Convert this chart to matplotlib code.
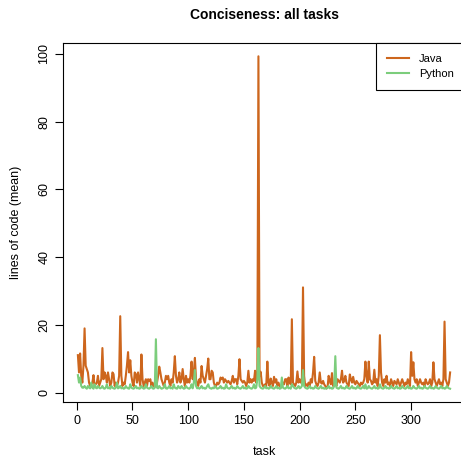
import numpy as np
import matplotlib.pyplot as plt

# mean lines of code per task, tasks 1..335
java = [
    11.1, 6, 11.6, 5, 3, 8, 19, 8, 7, 6, 3, 2, 2.5, 3, 5.2, 2, 2.5, 3, 5, 2,
    3, 4, 13.2, 4, 6, 5, 3, 6, 4, 2, 3, 6, 5.5, 2, 3, 2, 3, 5, 22.6, 5,
    2, 3, 2.5, 5, 8, 12, 6, 9.6, 5, 3, 2, 6, 5.5, 3, 6, 4, 2, 11.3, 4, 2,
    3, 4, 2, 4, 3.5, 4, 2, 3, 2, 1.8, 2, 3, 5, 7.7, 6, 4, 3, 2, 3, 5,
    4, 5, 3, 2, 4, 3, 6, 10.8, 5, 3, 4, 6, 3, 4, 7, 4, 2, 5, 3, 4,
    3, 5, 9.2, 4, 6, 10.3, 4, 3, 2, 4, 3, 7.9, 5, 4, 3, 5, 7, 10.1, 4, 4,
    6.5, 6, 3, 2, 2, 3, 2.5, 3, 4.5, 4, 4.5, 3, 4, 3.5, 3, 3.5, 3, 2.5, 3.5, 5,
    3, 4, 4, 2.5, 5, 9.9, 4, 3.5, 3, 3.5, 3, 2, 3, 6.5, 3, 4, 3, 4, 3.5, 6.5,
    3, 4, 99.3, 5, 6.2, 3, 2, 2, 2.5, 2, 9.2, 3, 2, 4.2, 3, 2, 4.7, 3, 4, 2,
    3, 2, 1.5, 2, 3, 2.5, 4, 4, 2, 4.5, 3, 2.5, 21.7, 3, 2.5, 2, 3, 6.3, 3, 4,
    3, 4, 31.1, 5, 2, 2.5, 2, 3, 2, 4, 3, 6, 10.6, 3.5, 2.5, 2, 3, 6, 3, 2.7,
    3.5, 2.5, 2, 1.3, 1.5, 5, 3.5, 2.5, 5.8, 2, 2.5, 3, 2, 4, 3.5, 3, 4, 6.5, 3, 3.5,
    5, 3, 2.5, 2, 5.4, 4, 3, 4.7, 3, 2.5, 3.5, 3, 2.5, 2, 3, 2.5, 3, 4, 9.2, 5,
    3, 9.2, 4, 3.5, 2.5, 3, 6.8, 3, 4, 2, 5, 17, 6, 3, 2, 4, 3, 5, 2.5, 3,
    2, 4, 3, 2, 3.5, 3, 2.5, 4, 3, 2, 3, 4, 3, 2, 3, 2.5, 4, 3, 2, 12,
    5, 9, 4, 3, 4, 2, 3, 4, 3, 2.5, 3, 2, 4, 3, 2.5, 3, 4, 2, 3, 9,
    4, 3, 2, 3, 4, 2.5, 3, 2, 4, 21, 4, 3, 2, 3, 6,
]
python = [
    5.2, 3, 4.5, 2, 1.5, 1.5, 2, 1.5, 1.2, 2, 1.5, 1.3, 3, 1.5, 1.2, 2.5, 1.5, 1.3, 2, 1.5,
    1.3, 1.5, 2, 1.3, 1.2, 1.5, 2.5, 1.3, 1.5, 1.2, 2, 1.5, 1.3, 1.2, 1.5, 3, 1.3, 1.5, 2, 1.3,
    1.5, 1.2, 1.3, 2, 1.5, 1.3, 1.2, 2.5, 1.5, 1.3, 1.2, 1.5, 2, 1.3, 1.5, 1.2, 1.3, 2, 1.5, 1.2,
    1.3, 2.5, 1.5, 1.3, 1.2, 1.5, 2, 1.3, 1.2, 1.5, 15.8, 1.5, 1.3, 2, 1.5, 1.2, 1.3, 1.5, 2.5, 1.3,
    1.2, 1.5, 2, 1.3, 1.5, 1.2, 2.5, 1.5, 1.3, 1.2, 2, 1.5, 1.3, 2, 1.5, 1.2, 1.3, 2, 1.5, 1.3,
    1.2, 1.5, 2.5, 1.3, 3, 6.7, 2, 1.3, 1.5, 1.2, 1.5, 2, 1.3, 1.5, 1.2, 1.3, 2, 2.5, 1.5, 1.3,
    1.2, 1.5, 1.3, 2, 1.5, 1.2, 1.3, 1.5, 2, 1.3, 1.5, 1.2, 1.3, 2.5, 1.5, 1.3, 1.2, 1.5, 2, 1.3,
    1.5, 1.2, 1.3, 2, 1.5, 1.3, 1.2, 1.5, 2, 1.3, 1.5, 1.2, 1.3, 2, 1.5, 1.3, 1.2, 1.5, 2.5, 1.3,
    1.5, 4, 13.2, 2, 1.5, 1.3, 1.2, 1.5, 2, 1.3, 1.5, 1.2, 1.3, 2, 1.5, 1.3, 1.2, 1.5, 2, 1.3,
    1.5, 1.2, 1.3, 4.5, 1.5, 1.3, 1.2, 1.5, 2, 1.3, 1.5, 1.2, 2.5, 2, 1.5, 1.3, 1.2, 1.5, 2, 1.3,
    1.5, 2, 6.7, 2, 1.5, 1.3, 1.2, 1.5, 2, 1.3, 1.5, 1.2, 1.3, 2, 1.5, 1.3, 1.2, 1.5, 2, 1.3,
    1.5, 1.2, 1.3, 1.2, 1.5, 2, 1.3, 1.5, 1.2, 1.3, 2, 10.8, 1.5, 1.3, 1.2, 1.5, 2, 1.3, 1.5, 1.2,
    1.3, 2, 1.5, 1.3, 1.2, 1.5, 2, 1.3, 1.5, 1.2, 1.3, 2, 1.5, 1.3, 1.2, 1.5, 2, 1.3, 2.5, 1.2,
    1.3, 2, 1.5, 1.3, 1.2, 1.5, 2, 1.3, 1.5, 1.2, 1.3, 2.5, 1.5, 1.3, 1.2, 1.5, 2, 1.3, 1.5, 1.2,
    1.3, 2, 1.5, 1.3, 1.2, 1.5, 2, 1.3, 1.5, 1.2, 1.3, 2, 1.5, 1.3, 1.2, 1.5, 2, 1.3, 1.5, 1.2,
    1.3, 2, 1.5, 1.3, 1.2, 1.5, 2, 1.3, 1.5, 1.2, 1.3, 2, 1.5, 1.3, 1.2, 1.5, 2, 1.3, 1.5, 1.2,
    1.3, 2, 1.5, 1.3, 1.2, 1.5, 2, 1.3, 1.5, 1.2, 1.3, 2, 1.5, 1.3, 1.2,
]
tasks = np.arange(1, len(java) + 1)

plt.rcParams['font.family'] = ['Liberation Sans', 'DejaVu Sans']

fig = plt.figure(figsize=(4.61, 4.61), dpi=100)
ax = fig.add_axes([63 / 461, 59 / 461, 402 / 461, 359 / 461])

ax.plot(tasks, java, color='#CD661D', lw=1.5, label='Java')
ax.plot(tasks, python, color='#7CCD7C', lw=1.5, label='Python')

# R style 4% padding
n = len(java)
ax.set_xlim(1 - 0.04 * (n - 1), n + 0.04 * (n - 1))
lo = min(min(java), min(python))
hi = max(max(java), max(python))
ax.set_ylim(lo - 0.04 * (hi - lo), hi + 0.04 * (hi - lo))

ax.set_xticks([0, 50, 100, 150, 200, 250, 300])
ax.set_yticks([0, 20, 40, 60, 80, 100])
ax.tick_params(direction='out', length=6, width=0.8, labelsize=9, pad=3)
for lab in ax.get_yticklabels():
    lab.set_rotation(90)
    lab.set_va('center')
for s in ax.spines.values():
    s.set_linewidth(0.8)

ax.set_xlabel('task', fontsize=9, labelpad=14)
ax.set_ylabel('lines of code (mean)', fontsize=9, labelpad=12)
ax.set_title('Conciseness: all tasks', fontsize=10, fontweight='bold', pad=17)

leg = ax.legend(loc='upper right', bbox_to_anchor=(1.0, 1.0), borderaxespad=0,
                fancybox=False, edgecolor='black', framealpha=1, fontsize=8,
                handlelength=2.0, handletextpad=0.9, borderpad=1.0, labelspacing=0.4)
leg.get_frame().set_linewidth(0.8)

fig.savefig('out.png', dpi=100)
